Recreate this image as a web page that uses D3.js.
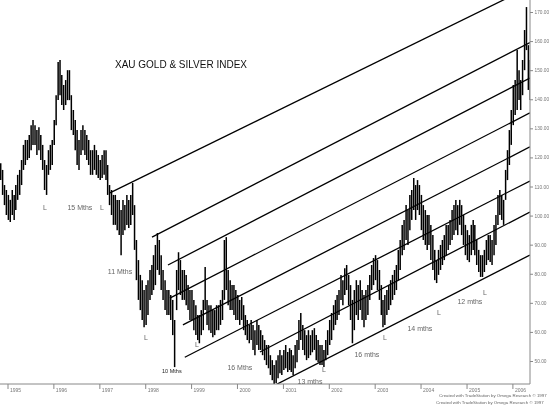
<!DOCTYPE html>
<html>
<head>
<meta charset="utf-8">
<script src="https://cdn.jsdelivr.net/npm/d3@7"></script>
<style>
  body { margin: 0; background: #fff; }
  svg { display: block; font-family: "Liberation Sans", Arial, sans-serif; will-change: transform; }
</style>
</head>
<body>
<svg id="chart" width="550" height="406"></svg>
<script>
// half-month bars, first one is early Nov 1994
const firstBarMonth = [1994, 10];

const barHigh = [
  // 1994 Nov-Dec
  118.0, 115.7, 110.5, 108.8,
  // 1995
  107.1, 105.4, 108.8, 107.1, 110.5, 114.0, 115.7, 119.1, 124.3, 126.0, 126.0, 127.7,
  131.1, 132.9, 131.1, 129.4, 130.4, 127.7, 124.3, 119.1, 117.4, 122.5, 124.3, 126.0,
  // 1996
  132.9, 141.4, 152.8, 153.5, 148.3, 144.9, 146.6, 150.0, 150.0, 141.4, 136.3, 132.9,
  129.4, 126.0, 129.4, 131.1, 129.4, 127.7, 126.0, 122.5, 122.5, 124.3, 122.5, 120.8,
  // 1997
  119.1, 120.8, 122.5, 122.5, 117.4, 110.5, 108.8, 107.1, 107.1, 105.4, 105.4, 101.9,
  105.4, 103.6, 107.1, 105.4, 107.1, 111.2, 103.6, 91.6, 84.7, 79.6, 77.8, 74.4,
  // 1998
  76.1, 77.8, 81.3, 83.0, 86.4, 89.9, 94.0, 91.6, 86.4, 81.3, 77.8, 74.4,
  74.4, 72.7, 71.0, 64.1, 81.3, 87.4, 84.7, 81.3, 81.3, 79.6, 76.1, 74.4,
  // 1999
  74.4, 71.0, 69.2, 65.8, 65.8, 67.5, 71.0, 82.3, 71.0, 69.2, 69.2, 67.5,
  67.5, 69.2, 69.2, 71.0, 74.4, 91.6, 92.6, 81.3, 77.8, 76.1, 76.1, 74.4,
  // 2000
  72.7, 71.0, 72.0, 69.2, 65.8, 64.1, 62.4, 64.1, 62.4, 60.6, 64.1, 62.4,
  60.6, 58.9, 57.2, 55.5, 55.5, 52.0, 50.3, 48.6, 50.3, 52.0, 53.8, 52.0,
  // 2001
  53.8, 55.5, 53.1, 54.4, 53.8, 52.0, 55.5, 57.2, 64.1, 66.5, 62.4, 60.6,
  58.9, 60.6, 58.9, 60.6, 61.3, 58.9, 57.2, 55.5, 55.5, 53.8, 57.2, 60.6,
  // 2002
  64.1, 66.5, 69.2, 71.0, 72.7, 74.4, 79.6, 77.8, 81.9, 83.0, 79.6, 76.1,
  71.0, 74.4, 77.8, 76.1, 77.8, 74.4, 72.7, 74.4, 76.1, 79.6, 83.0, 85.4,
  // 2003
  86.4, 84.7, 81.3, 76.1, 71.0, 72.7, 74.4, 76.1, 77.8, 79.6, 81.3, 83.0,
  88.2, 91.6, 96.8, 98.5, 103.6, 101.9, 107.1, 108.8, 112.9, 110.5, 112.2, 110.5,
  // 2004
  107.1, 103.6, 101.9, 100.2, 100.2, 96.8, 93.3, 88.2, 84.7, 88.2, 89.9, 91.6,
  93.3, 96.8, 96.8, 98.5, 101.9, 103.6, 105.4, 103.6, 105.4, 103.6, 100.2, 96.8,
  // 2005
  95.0, 93.3, 96.8, 98.5, 96.8, 91.6, 88.2, 86.4, 86.4, 88.2, 91.6, 93.3,
  93.3, 91.6, 96.8, 100.2, 107.1, 108.8, 107.1, 105.4, 115.7, 122.5, 129.4, 136.3,
  // 2006 Jan-May
  144.9, 146.6, 156.9, 150.0, 146.6, 153.5, 163.8, 171.7, 158.6, 153.5
];

const barLow = [
  // 1994 Nov-Dec
  112.2, 107.1, 103.6, 100.2,
  // 1995
  98.5, 97.8, 100.2, 98.5, 101.9, 105.4, 107.1, 110.5, 115.7, 117.4, 119.1, 119.8,
  122.5, 124.3, 124.3, 120.8, 122.5, 119.1, 115.7, 108.8, 107.1, 114.0, 115.7, 117.4,
  // 1996
  124.3, 131.1, 139.7, 141.4, 138.0, 136.3, 138.0, 139.7, 139.7, 129.4, 127.7, 122.5,
  117.4, 115.7, 120.8, 122.5, 120.8, 119.1, 117.4, 114.0, 114.0, 115.7, 114.0, 112.9,
  // 1997
  112.2, 112.9, 114.0, 112.2, 107.1, 103.6, 100.2, 96.8, 96.8, 95.0, 93.3, 86.4,
  93.3, 95.0, 96.8, 95.7, 96.8, 100.2, 88.2, 77.8, 71.0, 67.5, 64.1, 61.6,
  // 1998
  62.4, 65.8, 71.0, 72.7, 74.4, 76.1, 81.3, 79.6, 74.4, 71.0, 67.5, 65.8,
  65.8, 64.1, 58.9, 47.9, 67.5, 74.4, 72.7, 71.0, 71.0, 69.2, 67.5, 64.1,
  // 1999
  64.1, 60.6, 58.9, 57.2, 56.1, 58.9, 60.6, 67.5, 62.4, 60.6, 59.6, 58.2,
  58.9, 60.6, 60.6, 62.4, 64.1, 71.0, 74.4, 69.2, 67.5, 67.5, 65.8, 64.1,
  // 2000
  64.1, 62.4, 64.1, 60.6, 58.9, 57.2, 56.1, 57.2, 53.8, 52.0, 55.5, 53.8,
  53.8, 52.0, 50.3, 48.6, 47.5, 45.2, 43.4, 41.7, 42.4, 44.1, 45.8, 45.2,
  // 2001
  46.9, 47.5, 46.2, 46.9, 46.2, 45.2, 47.5, 49.6, 53.8, 57.2, 53.8, 52.0,
  50.3, 51.0, 52.0, 53.0, 53.8, 50.3, 49.6, 48.6, 48.6, 47.9, 50.3, 52.0,
  // 2002
  55.5, 57.2, 60.6, 62.4, 64.1, 65.8, 71.0, 69.2, 72.7, 74.4, 69.2, 64.1,
  56.1, 60.6, 65.8, 64.1, 67.5, 64.1, 61.6, 64.1, 65.8, 71.0, 74.4, 76.1,
  // 2003
  77.8, 74.4, 71.0, 65.8, 61.6, 62.4, 65.8, 67.5, 69.2, 71.0, 72.7, 74.4,
  77.8, 81.3, 86.4, 88.2, 91.6, 89.9, 95.0, 98.5, 101.9, 98.5, 101.9, 100.2,
  // 2004
  95.0, 91.6, 89.9, 88.2, 89.9, 84.7, 81.3, 77.8, 76.8, 79.6, 81.3, 83.0,
  84.7, 86.4, 88.2, 89.9, 91.6, 93.3, 95.0, 93.3, 96.8, 93.3, 89.9, 86.4,
  // 2005
  84.7, 84.0, 86.4, 88.2, 86.4, 83.0, 80.6, 78.9, 78.9, 80.6, 83.0, 84.7,
  84.0, 83.0, 86.4, 89.9, 96.8, 100.2, 98.5, 96.8, 105.4, 112.2, 117.4, 124.3,
  // 2006 Jan-May
  131.1, 134.6, 136.3, 139.7, 136.3, 141.4, 150.0, 156.9, 143.2, 139.7
];

// parallel channel lines: start date/value, end value at the right edge
const channelStart = ["1997-03-26", "1998-02-24", "1998-07-01", "1998-07-16",
                      "1998-10-28", "1998-11-12", "2000-07-02", "2000-10-30"];
const channelStartValue = [107.8, 92.6, 83.0, 71.6, 62.4, 51.3, 53.1, 41.7];
const channelEnd = "2006-05-20";
const channelEndValue = [178.6, 159.5, 147.3, 135.3, 123.6, 111.9, 101.2, 86.4];

// cycle annotations
const noteText = ["L", "15 Mths", "L", "11 Mths", "L", "10 Mths", "L", "16 Mths",
                  "13 mths", "L", "16 mths", "L", "14 mths", "L", "12 mths", "L"];
const noteDate = ["1995-10-26", "1996-07-30", "1997-01-22", "1997-06-14", "1998-01-07",
                  "1998-08-01", "1999-02-17", "2000-01-24", "2001-08-04", "2001-11-23",
                  "2002-10-31", "2003-03-24", "2003-12-27", "2004-05-27", "2005-01-28",
                  "2005-05-28"];
const noteValue = [102.9, 102.9, 102.9, 80.9, 58.2, 46.5, 55.5, 47.6,
                   43.1, 47.2, 52.1, 57.9, 61.0, 66.8, 70.3, 73.7];

const yTicks = [50, 60, 70, 80, 90, 100, 110, 120, 130, 140, 150, 160, 170];
const yearTicks = d3.range(1995, 2007);

const parse = d3.timeParse("%Y-%m-%d");
const svg = d3.select("#chart");
const plotW = 530, plotH = 384;

const x = d3.scaleTime()
  .domain([new Date(1995, 0, 1), new Date(2006, 0, 1)])
  .range([7.5, 512.4]);
const y = d3.scaleLinear().domain([50, 170]).range([361, 12]);

const bars = barHigh.map((h, i) => ({
  date: new Date(firstBarMonth[0], firstBarMonth[1] + Math.floor(i / 2), i % 2 ? 23 : 8),
  hi: h,
  lo: barLow[i]
}));

svg.append("clipPath").attr("id", "plot")
  .append("rect").attr("width", plotW).attr("height", plotH);

const g = svg.append("g").attr("clip-path", "url(#plot)");

g.selectAll("line.bar")
  .data(bars)
  .enter().append("line")
  .attr("class", "bar")
  .attr("x1", d => x(d.date)).attr("x2", d => x(d.date))
  .attr("y1", d => y(d.hi)).attr("y2", d => y(d.lo))
  .attr("stroke", "#000")
  .attr("stroke-width", 1.5);

g.selectAll("line.channel")
  .data(channelStart)
  .enter().append("line")
  .attr("class", "channel")
  .attr("x1", d => x(parse(d)))
  .attr("y1", (d, i) => y(channelStartValue[i]))
  .attr("x2", x(parse(channelEnd)))
  .attr("y2", (d, i) => y(channelEndValue[i]))
  .attr("stroke", "#000")
  .attr("stroke-width", 1.3);

// axes
svg.append("line").attr("x1", plotW).attr("x2", plotW).attr("y1", 0).attr("y2", plotH)
  .attr("stroke", "#888");
svg.append("line").attr("x1", 0).attr("x2", plotW).attr("y1", plotH).attr("y2", plotH)
  .attr("stroke", "#888");

const yAxis = svg.append("g")
  .attr("transform", `translate(${plotW},0)`)
  .call(d3.axisRight(y).tickValues(yTicks).tickSize(3).tickPadding(1.5)
    .tickFormat(d3.format(".2f")));
yAxis.select(".domain").remove();
yAxis.selectAll("line").attr("stroke", "#888");
yAxis.selectAll("text").attr("fill", "#777").style("font-size", "4.8px");

const xAxis = svg.append("g")
  .attr("transform", `translate(0,${plotH})`)
  .call(d3.axisBottom(x).tickValues(yearTicks.map(yr => new Date(yr, 0, 1)))
    .tickSize(5).tickFormat(d3.timeFormat("%Y")));
xAxis.select(".domain").remove();
xAxis.selectAll("line").attr("stroke", "#888");
xAxis.selectAll("text")
  .attr("fill", "#777").style("font-size", "5px")
  .attr("text-anchor", "start").attr("x", 2).attr("y", 4).attr("dy", "0.71em");

// title
svg.append("text")
  .attr("x", 115).attr("y", 68)
  .attr("textLength", 132).attr("lengthAdjust", "spacingAndGlyphs")
  .style("font-size", "11px").attr("fill", "#111")
  .text("XAU GOLD & SILVER INDEX");

// annotations
svg.selectAll("text.note")
  .data(noteText)
  .enter().append("text")
  .attr("class", "note")
  .attr("x", (d, i) => x(parse(noteDate[i])))
  .attr("y", (d, i) => y(noteValue[i]))
  .attr("dy", "0.35em")
  .attr("text-anchor", "middle")
  .attr("fill", (d, i) => i === 5 ? "#222" : "#666")
  .style("font-size", (d, i) => i === 5 ? "5.5px" : "7px")
  .text(d => d);

// credits
const credits = ["Created with TradeStation by Omega Research \u00a9 1997",
                 "Created with TradeStation by Omega Research \u00a9 1997"];
svg.selectAll("text.credit")
  .data(credits)
  .enter().append("text")
  .attr("class", "credit")
  .attr("x", (d, i) => i ? 436 : 439)
  .attr("y", (d, i) => 397 + i * 7)
  .attr("fill", "#666").style("font-size", "4.4px")
  .text(d => d);
</script>
</body>
</html>
